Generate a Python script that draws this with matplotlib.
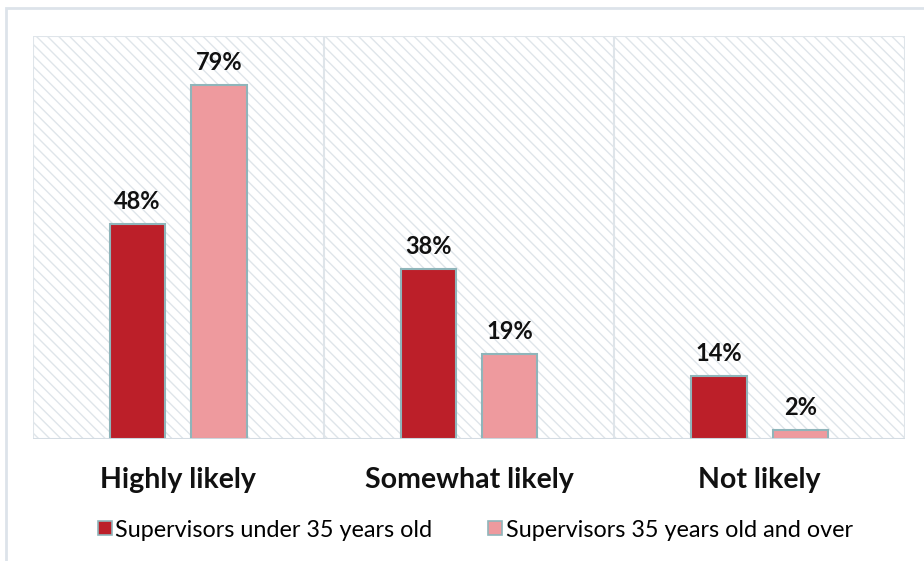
import numpy as np
import matplotlib.pyplot as plt
from matplotlib.patches import Rectangle
from matplotlib.lines import Line2D

plt.rcParams['font.family'] = ['Lato', 'DejaVu Sans']
plt.rcParams['hatch.linewidth'] = 1.0
plt.rcParams['hatch.color'] = '#cfd9e2'

categories = ['Highly likely', 'Somewhat likely', 'Not likely']
under35 = [48, 38, 14]
over35 = [79, 19, 2]
series_names = ['Supervisors under 35 years old', 'Supervisors 35 years old and over']
colors = ['#bc1f29', '#ee9a9e']
edge = '#8fb5ba'

fig = plt.figure(figsize=(9.24, 5.61), dpi=100)
# outer frame
frame = Rectangle((0.006, -0.05), 1.1, 1.036, transform=fig.transFigure,
                  facecolor='white', edgecolor='#dde3ea', linewidth=2, zorder=-1)
fig.add_artist(frame)

ax = fig.add_axes([0.0357, 0.2175, 0.9437, 0.7185])
ax.set_zorder(1)
ax.patch.set_alpha(0)
x = np.arange(len(categories))
w = 0.19
off = 0.14

ax.set_xlim(-0.5, 2.5)
ax.set_ylim(0, 90)
ax.add_patch(Rectangle((-0.5, 0), 3, 90, facecolor='white', edgecolor='#dfe5ea',
                       hatch='\\\\\\', linewidth=1.5, zorder=0))
for b in [0.5, 1.5]:
    ax.axvline(b, color='#dfe5ea', linewidth=1.5, zorder=1)

b1 = ax.bar(x - off, under35, w, color=colors[0], edgecolor=edge, linewidth=1.5, zorder=3)
b2 = ax.bar(x + off, over35, w, color=colors[1], edgecolor=edge, linewidth=1.5, zorder=3)

for bars, vals in [(b1, under35), (b2, over35)]:
    for r, v in zip(bars, vals):
        ax.annotate(f'{v}%', (r.get_x() + r.get_width() / 2, v), xytext=(0, 8),
                    textcoords='offset points', ha='center', va='bottom',
                    fontsize=17, fontweight='bold', color='#111111')

ax.axhline(0, color='#d3dbe3', linewidth=2, zorder=4)
for s in ax.spines.values():
    s.set_visible(False)
ax.set_yticks([])
ax.set_xticks(x)
ax.set_xticklabels(categories, fontsize=20.5, fontweight='bold', color='#111111')
ax.tick_params(axis='x', length=0, pad=20)

handles = [Line2D([], [], marker='s', linestyle='none', markersize=10,
                  markerfacecolor=c, markeredgecolor=edge, markeredgewidth=1.2)
           for c in colors]
fig.legend(handles, series_names, loc='center', bbox_to_anchor=(0.513, 0.055), ncol=2,
           frameon=False, fontsize=16.8, handletextpad=0.05, columnspacing=2.3,
           handlelength=0.8)

fig.savefig('out.png', dpi=100)
